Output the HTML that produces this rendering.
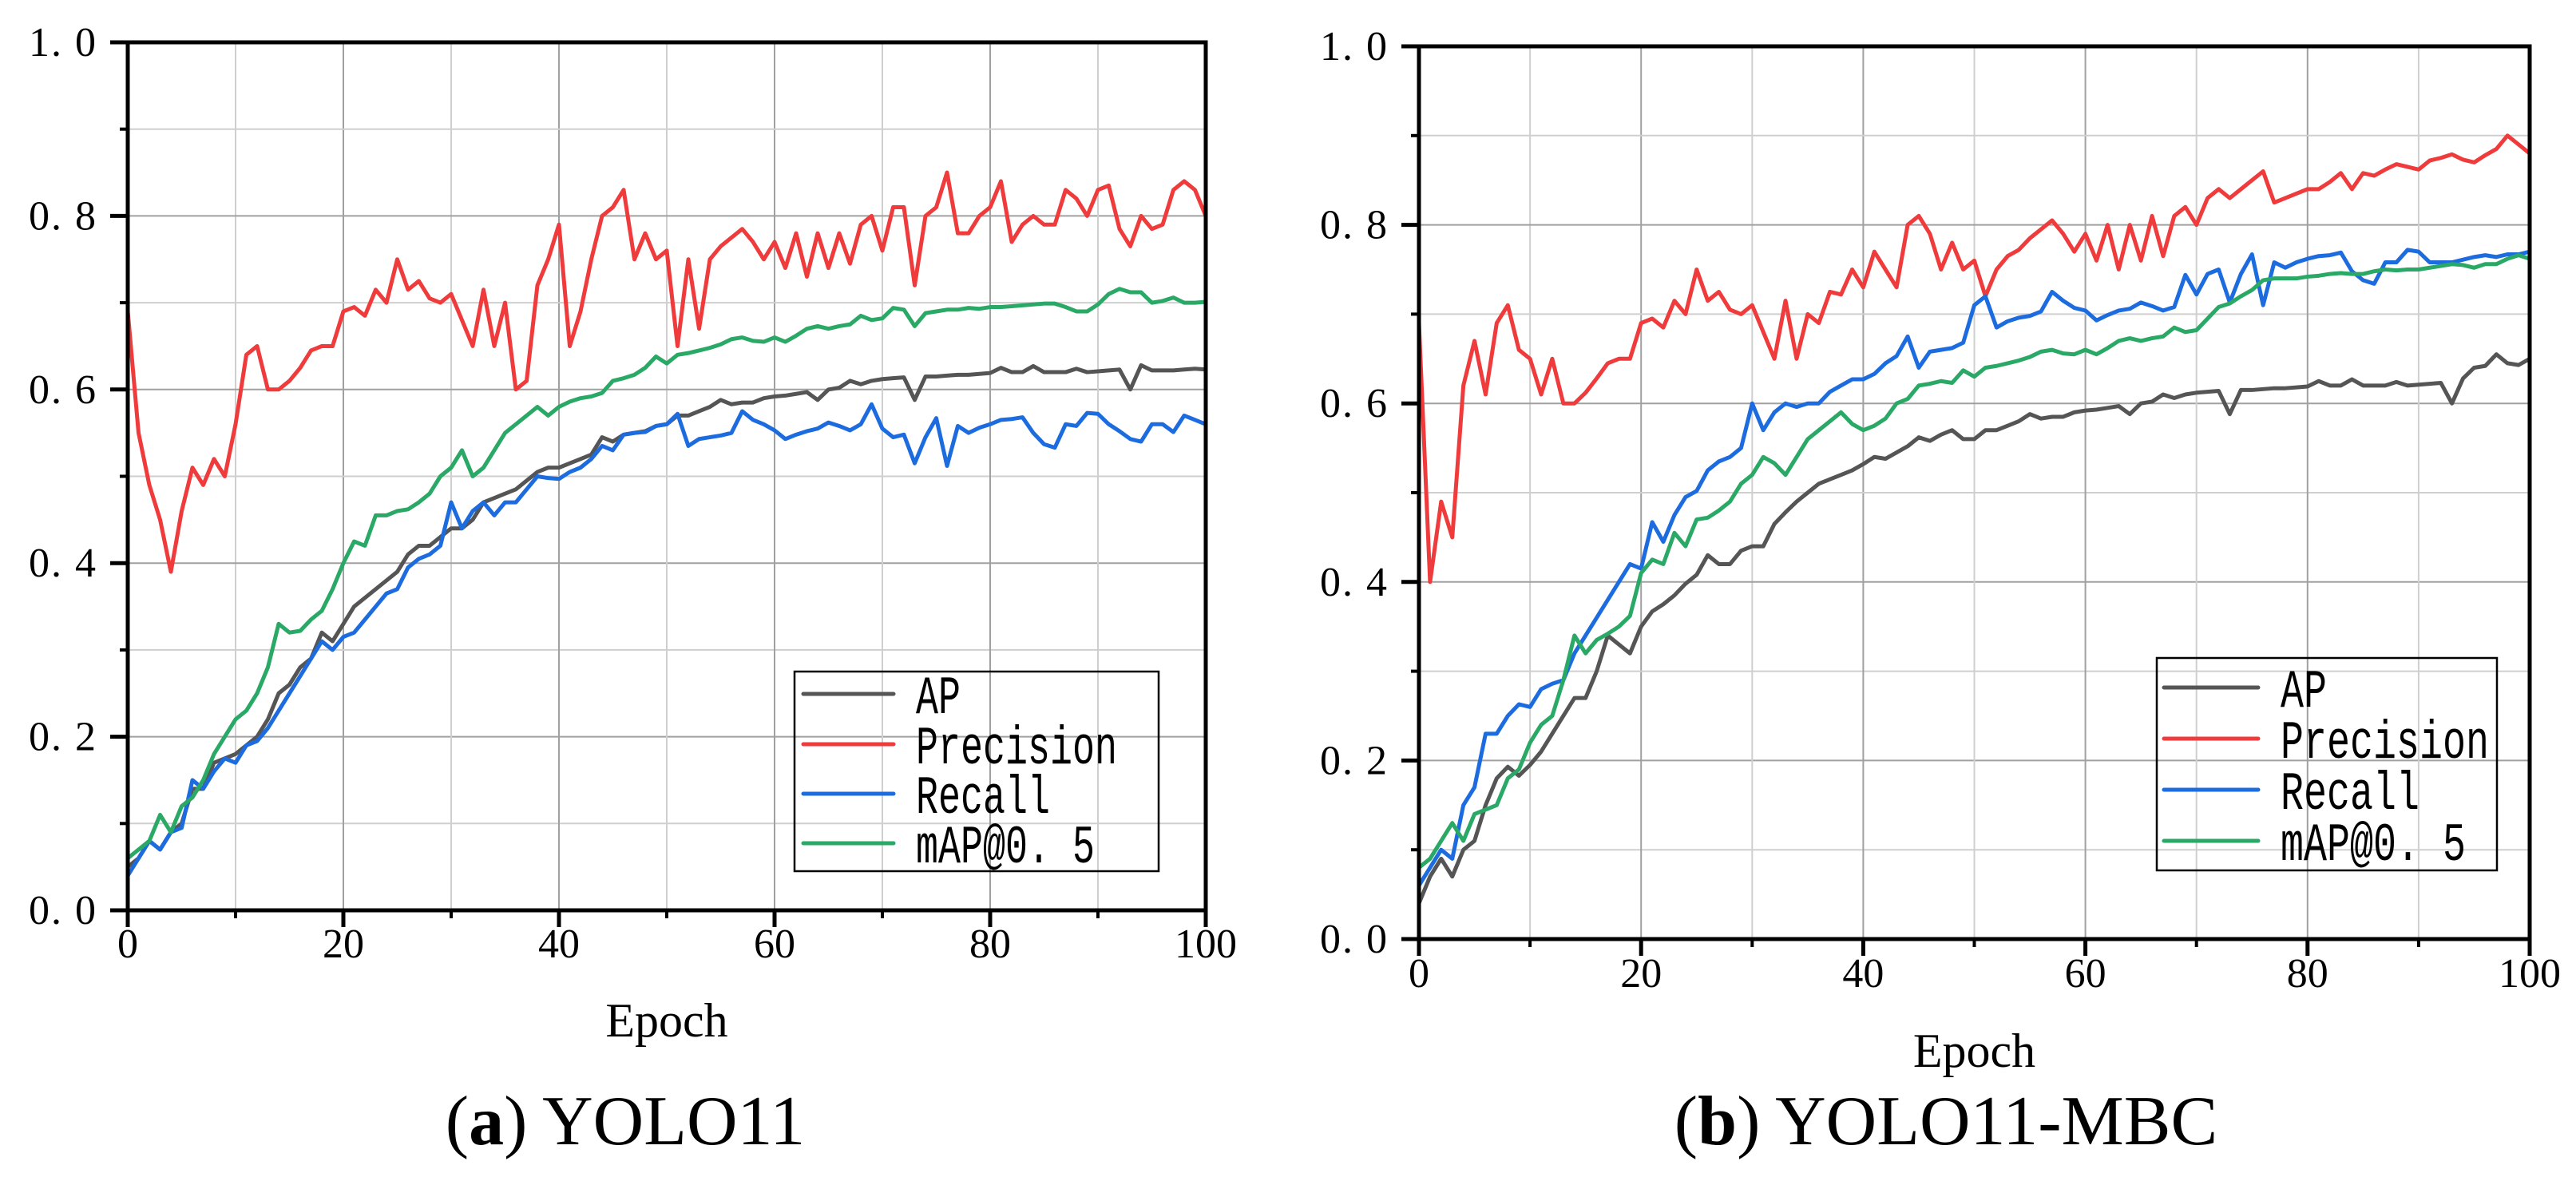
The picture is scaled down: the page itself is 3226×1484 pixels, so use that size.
<!DOCTYPE html>
<html><head><meta charset="utf-8"><style>
html,body{margin:0;padding:0;background:#fff;}
svg{display:block;}
</style></head><body>
<svg id="fig" width="3226" height="1484" viewBox="0 0 3226 1484" xmlns="http://www.w3.org/2000/svg">
<text x="783" y="1433" text-anchor="middle" font-family="Liberation Serif, serif" font-size="88">(<tspan font-weight="bold">a</tspan>) YOLO11</text>
<text x="2437" y="1433" text-anchor="middle" font-family="Liberation Serif, serif" font-size="88">(<tspan font-weight="bold">b</tspan>) YOLO11-MBC</text>
</svg>
<script>
const xTicks=[0,20,40,60,80,100];
const yTicks=[0.0,0.2,0.4,0.6,0.8,1.0];
const yTickLabels=["0. 0","0. 2","0. 4","0. 6","0. 8","1. 0"];
const seriesNames=["AP","Precision","Recall","mAP@0.5"];
const seriesLabels=["AP","Precision","Recall","mAP@0. 5"];
const colors=["#555555","#ef3b3b","#1c6ce0","#2aa866"];

const apA=[0.05,0.06,0.08,0.07,0.09,0.10,0.14,0.14,0.17,0.175,0.18,0.19,0.20,0.22,0.25,0.26,0.28,0.29,0.32,0.31,0.33,0.35,0.36,0.37,0.38,0.39,0.41,0.42,0.42,0.43,0.44,0.44,0.45,0.47,0.475,0.48,0.485,0.495,0.505,0.51,0.51,0.515,0.52,0.525,0.545,0.54,0.548,0.55,0.552,0.558,0.56,0.57,0.57,0.575,0.58,0.588,0.583,0.585,0.585,0.59,0.592,0.593,0.595,0.597,0.588,0.60,0.602,0.61,0.606,0.61,0.612,0.613,0.614,0.588,0.615,0.615,0.616,0.617,0.617,0.618,0.619,0.625,0.62,0.62,0.627,0.62,0.62,0.62,0.624,0.62,0.621,0.622,0.623,0.60,0.628,0.622,0.622,0.622,0.623,0.624,0.623];
const precA=[0.69,0.55,0.49,0.45,0.39,0.46,0.51,0.49,0.52,0.50,0.56,0.64,0.65,0.60,0.60,0.61,0.625,0.645,0.65,0.65,0.69,0.695,0.685,0.715,0.70,0.75,0.715,0.725,0.705,0.70,0.71,0.68,0.65,0.715,0.65,0.70,0.60,0.61,0.72,0.75,0.79,0.65,0.69,0.75,0.80,0.81,0.83,0.75,0.78,0.75,0.76,0.65,0.75,0.67,0.75,0.765,0.775,0.785,0.77,0.75,0.77,0.74,0.78,0.73,0.78,0.74,0.78,0.745,0.79,0.80,0.76,0.81,0.81,0.72,0.80,0.81,0.85,0.78,0.78,0.80,0.81,0.84,0.77,0.79,0.80,0.79,0.79,0.83,0.82,0.80,0.83,0.835,0.785,0.765,0.80,0.785,0.79,0.83,0.84,0.83,0.80];
const recA=[0.04,0.06,0.08,0.07,0.09,0.095,0.15,0.14,0.16,0.175,0.17,0.19,0.195,0.21,0.23,0.25,0.27,0.29,0.31,0.30,0.315,0.32,0.335,0.35,0.365,0.37,0.395,0.405,0.41,0.42,0.47,0.44,0.46,0.47,0.455,0.47,0.47,0.485,0.50,0.498,0.497,0.505,0.51,0.52,0.535,0.53,0.548,0.55,0.551,0.558,0.56,0.572,0.535,0.543,0.545,0.547,0.55,0.575,0.565,0.56,0.553,0.543,0.548,0.552,0.555,0.562,0.558,0.553,0.56,0.583,0.555,0.545,0.548,0.515,0.545,0.567,0.512,0.558,0.55,0.556,0.56,0.565,0.566,0.568,0.55,0.537,0.533,0.56,0.558,0.573,0.572,0.56,0.552,0.543,0.54,0.56,0.56,0.551,0.57,0.565,0.56];
const mapA=[0.06,0.07,0.08,0.11,0.09,0.12,0.13,0.15,0.18,0.20,0.22,0.23,0.25,0.28,0.33,0.32,0.322,0.335,0.345,0.37,0.40,0.425,0.42,0.455,0.455,0.46,0.462,0.47,0.48,0.50,0.51,0.53,0.50,0.51,0.53,0.55,0.56,0.57,0.58,0.57,0.58,0.586,0.59,0.592,0.596,0.61,0.613,0.617,0.625,0.638,0.63,0.64,0.642,0.645,0.648,0.652,0.658,0.66,0.656,0.655,0.66,0.655,0.662,0.67,0.673,0.67,0.673,0.675,0.685,0.68,0.682,0.694,0.692,0.673,0.688,0.69,0.692,0.692,0.694,0.693,0.695,0.695,0.696,0.697,0.698,0.699,0.699,0.695,0.69,0.69,0.698,0.71,0.716,0.712,0.712,0.70,0.702,0.706,0.70,0.70,0.701];

const apB=[0.04,0.07,0.09,0.07,0.10,0.11,0.15,0.18,0.193,0.183,0.195,0.21,0.23,0.25,0.27,0.27,0.30,0.34,0.33,0.32,0.35,0.367,0.375,0.385,0.398,0.408,0.43,0.42,0.42,0.435,0.44,0.44,0.465,0.478,0.49,0.50,0.51,0.515,0.52,0.525,0.532,0.54,0.538,0.545,0.552,0.562,0.558,0.565,0.57,0.56,0.56,0.57,0.57,0.575,0.58,0.588,0.583,0.585,0.585,0.59,0.592,0.593,0.595,0.597,0.588,0.60,0.602,0.61,0.606,0.61,0.612,0.613,0.614,0.588,0.615,0.615,0.616,0.617,0.617,0.618,0.619,0.625,0.62,0.62,0.627,0.62,0.62,0.62,0.624,0.62,0.621,0.622,0.623,0.60,0.628,0.64,0.642,0.655,0.645,0.643,0.65];
const precB=[0.69,0.40,0.49,0.45,0.62,0.67,0.61,0.69,0.71,0.66,0.65,0.61,0.65,0.60,0.60,0.612,0.628,0.645,0.65,0.65,0.69,0.695,0.685,0.715,0.70,0.75,0.715,0.725,0.705,0.70,0.71,0.68,0.65,0.715,0.65,0.70,0.69,0.725,0.722,0.75,0.73,0.77,0.75,0.73,0.80,0.81,0.79,0.75,0.78,0.75,0.76,0.72,0.75,0.765,0.772,0.785,0.795,0.805,0.79,0.77,0.79,0.76,0.80,0.75,0.80,0.76,0.81,0.765,0.81,0.82,0.80,0.83,0.84,0.83,0.84,0.85,0.86,0.825,0.83,0.835,0.84,0.84,0.848,0.858,0.84,0.858,0.855,0.862,0.868,0.865,0.862,0.872,0.875,0.879,0.873,0.87,0.878,0.885,0.90,0.89,0.88];
const recB=[0.06,0.08,0.10,0.09,0.15,0.17,0.23,0.23,0.25,0.263,0.26,0.28,0.286,0.29,0.32,0.34,0.36,0.38,0.40,0.42,0.415,0.467,0.445,0.475,0.495,0.502,0.525,0.535,0.54,0.55,0.60,0.57,0.59,0.60,0.596,0.60,0.60,0.613,0.62,0.627,0.627,0.633,0.645,0.653,0.675,0.64,0.658,0.66,0.662,0.668,0.71,0.72,0.685,0.692,0.696,0.698,0.703,0.725,0.715,0.707,0.704,0.693,0.699,0.704,0.706,0.713,0.709,0.704,0.708,0.744,0.722,0.745,0.75,0.713,0.745,0.767,0.71,0.758,0.752,0.758,0.762,0.765,0.766,0.769,0.748,0.738,0.734,0.758,0.758,0.772,0.77,0.758,0.758,0.758,0.761,0.764,0.766,0.764,0.767,0.767,0.77];
const mapB=[0.08,0.09,0.11,0.13,0.11,0.14,0.145,0.15,0.18,0.19,0.22,0.24,0.25,0.29,0.34,0.32,0.335,0.342,0.35,0.362,0.41,0.425,0.42,0.455,0.44,0.47,0.472,0.48,0.49,0.51,0.52,0.54,0.533,0.52,0.54,0.56,0.57,0.58,0.59,0.577,0.57,0.575,0.583,0.60,0.605,0.62,0.622,0.625,0.623,0.637,0.63,0.64,0.642,0.645,0.648,0.652,0.658,0.66,0.656,0.655,0.66,0.655,0.662,0.67,0.673,0.67,0.673,0.675,0.685,0.68,0.682,0.695,0.708,0.712,0.72,0.727,0.738,0.74,0.74,0.74,0.742,0.743,0.745,0.746,0.745,0.745,0.748,0.75,0.749,0.75,0.75,0.752,0.754,0.756,0.755,0.752,0.756,0.756,0.762,0.766,0.762];

const NS="http://www.w3.org/2000/svg";
const svg=document.getElementById('fig');
function mk(tag,attrs,parent){const e=document.createElementNS(NS,tag);for(const k in attrs)e.setAttribute(k,attrs[k]);(parent||svg).appendChild(e);return e;}

function drawChart(id,L,R,T,B,series,leg,epochY,tickLabelY){
  const g=mk('g',{});
  
  
  const xs=v=>L+(R-L)*v/100;
  const ys=v=>B-(B-T)*v;
  for(let i=1;i<10;i++){
    const x=xs(i*10);
    const l=mk('line',{x1:x,x2:x,y1:T,y2:B,stroke:i%2==0?'#a0a0a0':'#cfcfcf','stroke-width':2},g);
    
    
    const y=ys(i/10);
    const l2=mk('line',{x1:L,x2:R,y1:y,y2:y,stroke:i%2==0?'#a0a0a0':'#cfcfcf','stroke-width':2},g);
    
    
  }
  series.forEach((s,k)=>{
    const pts=s.map((v,i)=>xs(i)+','+ys(v)).join(' ');
    const p=mk('polyline',{points:pts,fill:'none',stroke:colors[k],'stroke-width':5,'stroke-linejoin':'round'},g);
    
    
  });
  const f=mk('rect',{x:L,y:T,width:R-L,height:B-T,fill:'none',stroke:'#000','stroke-width':5},g);
  
  
  for(let i=0;i<=10;i++){
    const x=xs(i*10);const major=i%2==0;
    const t=mk('line',{x1:x,x2:x,y1:B,y2:B+(major?21:10),stroke:'#000','stroke-width':major?5:4},g);
    
    
  }
  xTicks.forEach(v=>{
    const t=mk('text',{x:xs(v),y:tickLabelY,'text-anchor':'middle','font-family':'Liberation Serif, serif','font-size':52},g);
    t.textContent=String(v);
    
    
  });
  for(let i=0;i<=10;i++){
    const y=ys(i/10);const major=i%2==0;
    const t=mk('line',{x1:L-(major?22:10),x2:L,y1:y,y2:y,stroke:'#000','stroke-width':major?5:4},g);
    
    
  }
  yTicks.forEach((v,i)=>{
    const t=mk('text',{x:L-38,y:ys(v)+17,'text-anchor':'end','font-family':'Liberation Serif, serif','font-size':52,'letter-spacing':2},g);
    t.textContent=yTickLabels[i];
    
    
  });
  const ex=mk('text',{x:(L+R)/2,y:epochY,'text-anchor':'middle','font-family':'Liberation Serif, serif','font-size':60},g);
  ex.textContent='Epoch';
  
  
  const lg=mk('g',{},g);
  
  
  const bx=mk('rect',{x:leg.x1,y:leg.y1,width:leg.x2-leg.x1,height:leg.y2-leg.y1,fill:'none',stroke:'#000','stroke-width':2.5},lg);
  
  
  seriesLabels.forEach((name,k)=>{
    const y=leg.ys[k];
    const e=mk('g',{},lg);
    
    
    mk('line',{x1:leg.lx1,x2:leg.lx2,y1:y,y2:y,stroke:colors[k],'stroke-width':5,'stroke-linecap':'round'},e);
    const t=mk('text',{x:leg.tx,y:y+24,'font-family':'Liberation Mono, monospace','font-size':68,textLength:name.length*leg.cw,lengthAdjust:'spacingAndGlyphs'},e);
    t.textContent=name;
  });
}
drawChart('a',160,1510,53,1140,[apA,precA,recA,mapA],
  {x1:995,x2:1451,y1:841,y2:1091,ys:[869,932,994,1056],lx1:1006,lx2:1119,tx:1147,cw:28},1298,1199);
drawChart('b',1777,3168,58,1176,[apB,precB,recB,mapB],
  {x1:2701,x2:3127,y1:824,y2:1090,ys:[861,925,989,1053],lx1:2710,lx2:2828,tx:2856,cw:29},1336,1236);
</script>
</body></html>
